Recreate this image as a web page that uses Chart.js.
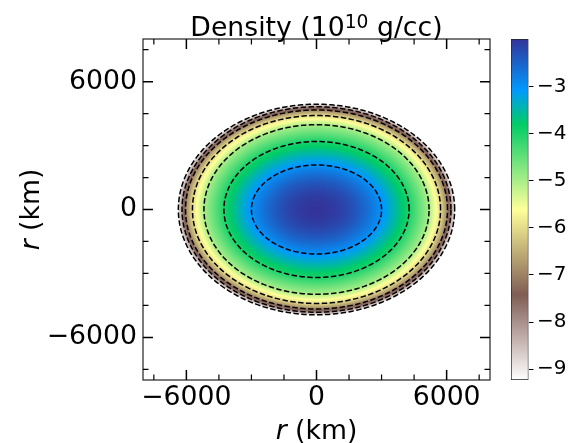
<!DOCTYPE html>
<html>
<head>
<meta charset="utf-8">
<script src="https://cdn.jsdelivr.net/npm/chart.js@4.4.1/dist/chart.umd.min.js"></script>
<style>
  html, body { margin: 0; padding: 0; background: #fff; }
  #wrap { position: relative; width: 576px; height: 443px; }
  #wrap canvas { position: absolute; top: 0; }
</style>
</head>
<body>
<div id="wrap">
  <canvas id="density" width="576" height="443" style="left:0"></canvas>
  <canvas id="colorbar" width="86" height="443" style="left:490px"></canvas>
</div>
<script>
// ------------------------------------------------------------
// data (log10 density, 1e10 g/cc units)
// ------------------------------------------------------------
const xMajorTicks = [-6000, 0, 6000];
const xMinorTicks = [-7500, -4500, -3000, -1500, 1500, 3000, 4500, 7500];
const yMajorTicks = [-6000, 0, 6000];
const yMinorTicks = [-7500, -4500, -3000, -1500, 1500, 3000, 4500, 7500];
const colorbarTicks = [-9, -8, -7, -6, -5, -4, -3];

// contour levels and the semi-axes (km) of each dashed contour
const contourLevels = [-3, -4, -5, -6, -7, -8, -9];
const contourSemiMajor = [3000, 4270, 5190, 5720, 6040, 6200, 6370];
const contourSemiMinor = [2090, 3190, 3980, 4410, 4670, 4820, 4940];
const centralDensity = -2.0;

const colorMin = -9.23;
const colorMax = -1.99;

// matplotlib "terrain" stops (reversed when used)
const terrainStops = [
    [0.00, [51, 51, 153]],
    [0.15, [0, 153, 255]],
    [0.25, [0, 204, 102]],
    [0.50, [255, 255, 153]],
    [0.75, [128, 92, 84]],
    [1.00, [255, 255, 255]]
];

const FONT = '"DejaVu Sans", "Liberation Sans", sans-serif';
const BIG = 26.7;
const minus = v => (v < 0 ? '\u2212' + Math.abs(v) : String(v));

// colour of a log-density value (terrain_r)
function terrainR(v) {
    let f = (v - colorMin) / (colorMax - colorMin);
    f = Math.max(0, Math.min(1, f));
    const p = 1 - f;
    for (let i = 1; i < terrainStops.length; i++) {
        const [p1, c1] = terrainStops[i];
        const [p0, c0] = terrainStops[i - 1];
        if (p <= p1) {
            const t = (p - p0) / (p1 - p0);
            return [0, 1, 2].map(k => c0[k] + (c1[k] - c0[k]) * t);
        }
    }
    return terrainStops[terrainStops.length - 1][1];
}

// value between the nested contour ellipses
function densityAt(x, y) {
    let prevS = null;
    for (let k = 0; k < contourLevels.length; k++) {
        const s = Math.hypot(x / contourSemiMajor[k], y / contourSemiMinor[k]);
        if (s <= 1) {
            if (k === 0) return centralDensity + (contourLevels[0] - centralDensity) * s * s;
            const t = (prevS - 1) * s / (prevS - s);
            return contourLevels[k - 1] + (contourLevels[k] - contourLevels[k - 1]) * t;
        }
        if (k === contourLevels.length - 1) {
            // just outside the last contour: carry the last step on to colorMin
            const t = (prevS - 1) * s / (prevS - s);
            const v = contourLevels[k - 1] + (contourLevels[k] - contourLevels[k - 1]) * t;
            return v >= colorMin ? v : null;
        }
        prevS = s;
    }
    return null;
}

function ellipsePoints(a, b) {
    const pts = [];
    for (let i = 0; i <= 360; i++) {
        const th = i * Math.PI / 180;
        pts.push({ x: a * Math.cos(th), y: b * Math.sin(th) });
    }
    return pts;
}

// ------------------------------------------------------------
// plugins
// ------------------------------------------------------------
const densityField = {
    id: 'densityField',
    beforeDatasetsDraw(chart) {
        const { ctx, chartArea: a, scales } = chart;
        const w = Math.round(a.right - a.left);
        const h = Math.round(a.bottom - a.top);
        const off = document.createElement('canvas');
        off.width = w;
        off.height = h;
        const octx = off.getContext('2d');
        const img = octx.createImageData(w, h);
        for (let j = 0; j < h; j++) {
            const vy = scales.y.getValueForPixel(a.top + j + 0.5);
            for (let i = 0; i < w; i++) {
                const vx = scales.x.getValueForPixel(a.left + i + 0.5);
                const v = densityAt(vx, vy);
                if (v === null) continue;
                const c = terrainR(v);
                const idx = (j * w + i) * 4;
                img.data[idx] = c[0];
                img.data[idx + 1] = c[1];
                img.data[idx + 2] = c[2];
                img.data[idx + 3] = 255;
            }
        }
        octx.putImageData(img, 0, 0);
        ctx.drawImage(off, a.left, a.top);
    }
};

const frameAndLabels = {
    id: 'frameAndLabels',
    afterDraw(chart) {
        const { ctx, chartArea: a, scales } = chart;
        ctx.save();

        // spines
        ctx.strokeStyle = '#222';
        ctx.lineWidth = 1.2;
        ctx.strokeRect(a.left, a.top, a.right - a.left, a.bottom - a.top);

        // inward ticks on all four sides
        const tick = (vals, len, lw) => {
            ctx.lineWidth = lw;
            ctx.beginPath();
            vals.forEach(v => {
                const px = scales.x.getPixelForValue(v);
                ctx.moveTo(px, a.bottom); ctx.lineTo(px, a.bottom - len);
                ctx.moveTo(px, a.top); ctx.lineTo(px, a.top + len);
            });
            ctx.stroke();
        };
        const ytick = (vals, len, lw) => {
            ctx.lineWidth = lw;
            ctx.beginPath();
            vals.forEach(v => {
                const py = scales.y.getPixelForValue(v);
                ctx.moveTo(a.left, py); ctx.lineTo(a.left + len, py);
                ctx.moveTo(a.right, py); ctx.lineTo(a.right - len, py);
            });
            ctx.stroke();
        };
        ctx.strokeStyle = '#000';
        tick(xMajorTicks, 10, 1.5);
        tick(xMinorTicks, 5.5, 1.2);
        ytick(yMajorTicks, 10, 1.5);
        ytick(yMinorTicks, 5.5, 1.2);

        // title with superscript
        ctx.fillStyle = '#000';
        ctx.textBaseline = 'alphabetic';
        ctx.textAlign = 'left';
        const parts = [
            ['Density (10', BIG + 'px ' + FONT, 0],
            ['10', (BIG * 0.7) + 'px ' + FONT, -8.5],
            [' g/cc)', BIG + 'px ' + FONT, 0]
        ];
        let total = 0;
        parts.forEach(p => { ctx.font = p[1]; total += ctx.measureText(p[0]).width; });
        let tx = (a.left + a.right) / 2 - total / 2;
        parts.forEach(p => {
            ctx.font = p[1];
            ctx.fillText(p[0], tx, 36 + p[2]);
            tx += ctx.measureText(p[0]).width;
        });

        // axis labels: italic r, then (km)
        const axisLabel = (cx, cy, rot) => {
            ctx.save();
            ctx.translate(cx, cy);
            ctx.rotate(rot);
            ctx.font = 'italic ' + BIG + 'px ' + FONT;
            const w1 = ctx.measureText('r').width;
            ctx.font = BIG + 'px ' + FONT;
            const w2 = ctx.measureText(' (km)').width;
            const x0 = -(w1 + w2) / 2;
            ctx.font = 'italic ' + BIG + 'px ' + FONT;
            ctx.fillText('r', x0, 0);
            ctx.font = BIG + 'px ' + FONT;
            ctx.fillText(' (km)', x0 + w1, 0);
            ctx.restore();
        };
        axisLabel((a.left + a.right) / 2, 438.5, 0);
        axisLabel(38.5, (a.top + a.bottom) / 2, -Math.PI / 2);

        ctx.restore();
    }
};

// ------------------------------------------------------------
// main density chart
// ------------------------------------------------------------
const contourSets = contourLevels.map((lev, k) => ({
    label: 'log rho = ' + lev,
    data: ellipsePoints(contourSemiMajor[k], contourSemiMinor[k]),
    showLine: true,
    borderColor: '#000',
    borderWidth: 1.5,
    borderDash: [5.5, 2.4],
    pointRadius: 0,
    fill: false,
    tension: 0
}));

const tickFont = { family: FONT, size: BIG };

new Chart(document.getElementById('density'), {
    type: 'scatter',
    data: { datasets: contourSets },
    options: {
        responsive: false,
        animation: false,
        devicePixelRatio: 1,
        layout: { padding: { top: 39, right: 86, left: 0, bottom: 0 } },
        plugins: { legend: { display: false }, tooltip: { enabled: false }, title: { display: false } },
        scales: {
            x: {
                type: 'linear',
                min: -8000, max: 8000,
                afterBuildTicks: s => { s.ticks = xMajorTicks.map(v => ({ value: v })); },
                afterFit: s => { s.height = 63; },
                ticks: { font: tickFont, color: '#000', padding: 2, maxRotation: 0, autoSkip: false, callback: minus },
                grid: { display: false, drawTicks: false },
                border: { display: false }
            },
            y: {
                type: 'linear',
                min: -8000, max: 8000,
                afterBuildTicks: s => { s.ticks = yMajorTicks.map(v => ({ value: v })); },
                afterFit: s => { s.width = 143; },
                ticks: { font: tickFont, color: '#000', padding: 6, autoSkip: false, callback: minus },
                grid: { display: false, drawTicks: false },
                border: { display: false }
            }
        }
    },
    plugins: [densityField, frameAndLabels]
});

// ------------------------------------------------------------
// colour bar
// ------------------------------------------------------------
new Chart(document.getElementById('colorbar'), {
    type: 'bar',
    data: {
        labels: ['density'],
        datasets: [{
            data: [[colorMin, colorMax]],
            barPercentage: 1,
            categoryPercentage: 1,
            borderWidth: 1,
            borderColor: '#222',
            borderSkipped: false,
            backgroundColor: function(context) {
                const chart = context.chart;
                const scale = chart.scales.y;
                if (!chart.chartArea || !scale) return '#888';
                const g = chart.ctx.createLinearGradient(0, scale.getPixelForValue(colorMin), 0, scale.getPixelForValue(colorMax));
                terrainStops.forEach(([p, c]) => g.addColorStop(1 - p, 'rgb(' + c.join(',') + ')'));
                return g;
            }
        }]
    },
    options: {
        responsive: false,
        animation: false,
        devicePixelRatio: 1,
        layout: { padding: { top: 39, right: 0, left: 21, bottom: 63 } },
        plugins: { legend: { display: false }, tooltip: { enabled: false } },
        scales: {
            x: { display: false },
            y: {
                position: 'right',
                min: colorMin, max: colorMax,
                afterBuildTicks: s => { s.ticks = colorbarTicks.map(v => ({ value: v })); },
                afterFit: s => { s.width = 47.5; },
                ticks: { font: { family: FONT, size: 20 }, color: '#000', padding: 3.5, autoSkip: false, callback: minus },
                grid: { drawOnChartArea: false, drawTicks: true, tickLength: 5, color: '#000', lineWidth: 1 },
                border: { display: false }
            }
        }
    }
});
</script>
</body>
</html>
